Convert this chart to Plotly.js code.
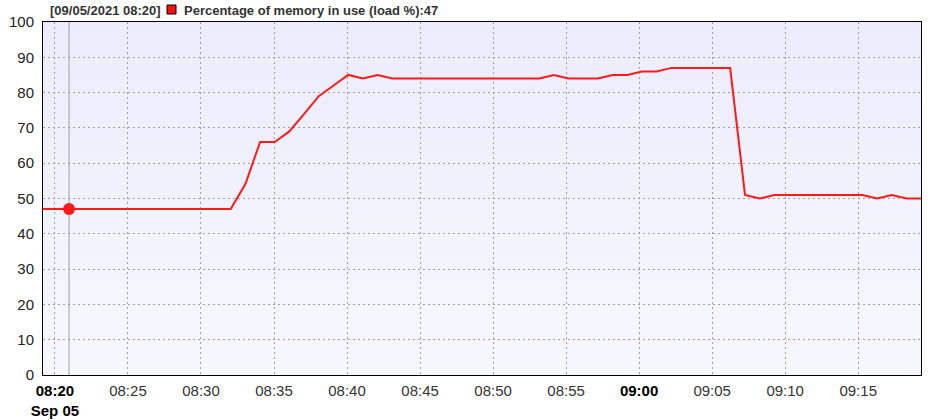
<!DOCTYPE html>
<html>
<head>
<meta charset="utf-8">
<script src="https://cdn.plot.ly/plotly-3.0.1.min.js"></script>
<style>
html,body{margin:0;padding:0;background:#fff;}
#chart{width:940px;height:420px;}
</style>
</head>
<body>
<div id="chart"></div>
<script>
// Sample times (one sample roughly every minute)
var times = [
"2021-09-05 08:18:57","2021-09-05 08:19:58","2021-09-05 08:20:58","2021-09-05 08:21:58","2021-09-05 08:22:59",
"2021-09-05 08:23:59","2021-09-05 08:24:59","2021-09-05 08:26:00","2021-09-05 08:27:00","2021-09-05 08:28:01",
"2021-09-05 08:29:01","2021-09-05 08:30:01","2021-09-05 08:31:02","2021-09-05 08:32:02","2021-09-05 08:33:02",
"2021-09-05 08:34:03","2021-09-05 08:35:03","2021-09-05 08:36:03","2021-09-05 08:37:04","2021-09-05 08:38:04",
"2021-09-05 08:39:05","2021-09-05 08:40:05","2021-09-05 08:41:05","2021-09-05 08:42:06","2021-09-05 08:43:06",
"2021-09-05 08:44:06","2021-09-05 08:45:07","2021-09-05 08:46:07","2021-09-05 08:47:07","2021-09-05 08:48:08",
"2021-09-05 08:49:08","2021-09-05 08:50:08","2021-09-05 08:51:09","2021-09-05 08:52:09","2021-09-05 08:53:10",
"2021-09-05 08:54:10","2021-09-05 08:55:10","2021-09-05 08:56:11","2021-09-05 08:57:11","2021-09-05 08:58:11",
"2021-09-05 08:59:12","2021-09-05 09:00:12","2021-09-05 09:01:12","2021-09-05 09:02:13","2021-09-05 09:03:13",
"2021-09-05 09:04:13","2021-09-05 09:05:14","2021-09-05 09:06:14","2021-09-05 09:07:15","2021-09-05 09:08:15",
"2021-09-05 09:09:15","2021-09-05 09:10:16","2021-09-05 09:11:16","2021-09-05 09:12:16","2021-09-05 09:13:17",
"2021-09-05 09:14:17","2021-09-05 09:15:17","2021-09-05 09:16:18","2021-09-05 09:17:18","2021-09-05 09:18:19",
"2021-09-05 09:19:19","2021-09-05 09:20:19"
];
// Percentage of memory in use (load %)
var memLoad = [
47,47,47,47,47,
47,47,47,47,47,
47,47,47,47,54,
66,66,69,74,79,
82,85,84,85,84,
84,84,84,84,84,
84,84,84,84,84,
85,84,84,84,85,
85,86,86,87,87,
87,87,87,51,50,
51,51,51,51,51,
51,51,50,51,50,
50,50
];
// Highlighted (hover) sample
var hoverTime = ["2021-09-05 08:20:58"];
var hoverValue = [47];
var headerDate = "[09/05/2021 08:20]";
var seriesName = "Percentage of memory in use (load %):47";

var xRange = ["2021-09-05 08:19:11", "2021-09-05 09:19:18"];
var tickVals = ["2021-09-05 08:20","2021-09-05 08:25","2021-09-05 08:30","2021-09-05 08:35","2021-09-05 08:40",
  "2021-09-05 08:45","2021-09-05 08:50","2021-09-05 08:55","2021-09-05 09:00","2021-09-05 09:05",
  "2021-09-05 09:10","2021-09-05 09:15"];
var tickText = ["<b><span style='color:#000'>08:20</span></b><br><b><span style='color:#000'>Sep 05</span></b>",
  "08:25","08:30","08:35","08:40","08:45","08:50","08:55",
  "<b><span style='color:#000'>09:00</span></b>","09:05","09:10","09:15"];
var yTicks = [0,10,20,30,40,50,60,70,80,90,100];

var W = 940, H = 420;
var L = 43, R = 19, T = 22, B = 45;
var pw = W - L - R, ph = H - T - B;
function px(x){ return (x - L) / pw; }
function py(y){ return (H - B - y) / ph; }

var bgSvg = "<svg xmlns='http://www.w3.org/2000/svg' width='100' height='100' preserveAspectRatio='none'>" +
  "<defs><linearGradient id='g' x1='0' y1='0' x2='0' y2='1'>" +
  "<stop offset='0' stop-color='#ECECFC'/><stop offset='1' stop-color='#F6F8FE'/></linearGradient></defs>" +
  "<rect width='100' height='100' fill='url(#g)'/></svg>";
var bgUri = "data:image/svg+xml;charset=utf-8," + encodeURIComponent(bgSvg);

var traces = [
  {
    x: times, y: memLoad, type: "scatter", mode: "lines",
    line: {color: "#FF1A1A", width: 2},
    hoverinfo: "skip", showlegend: false, cliponaxis: true
  },
  {
    x: hoverTime, y: hoverValue, type: "scatter", mode: "markers",
    marker: {color: "#FF1A1A", size: 12},
    hoverinfo: "skip", showlegend: false
  }
];

var layout = {
  width: W, height: H,
  margin: {l: L, r: R, t: T, b: B, pad: 0},
  paper_bgcolor: "#ffffff",
  plot_bgcolor: "#F1F2FD",
  font: {family: "Liberation Sans, Arial, sans-serif", size: 15, color: "#333"},
  images: [{
    source: bgUri, xref: "paper", yref: "paper", x: 0, y: 1, sizex: 1, sizey: 1,
    sizing: "stretch", layer: "below", xanchor: "left", yanchor: "top"
  }],
  xaxis: {
    type: "date", range: xRange, tickmode: "array", tickvals: tickVals, ticktext: tickText,
    showgrid: true, gridcolor: "#A0A0A0", griddash: "2px,3px", gridwidth: 1,
    showline: true, linecolor: "#000", linewidth: 1, mirror: true,
    ticks: "", zeroline: false, tickfont: {size: 15, color: "#333"},
    ticklabelstandoff: 2, fixedrange: true
  },
  yaxis: {
    range: [0, 100], tickmode: "array", tickvals: yTicks,
    showgrid: true, gridcolor: "#A0A0A0", griddash: "2px,3px", gridwidth: 1,
    showline: true, linecolor: "#000", linewidth: 1, mirror: true,
    ticks: "", zeroline: false, tickfont: {size: 15, color: "#222"},
    ticklabelstandoff: 5, fixedrange: true
  },
  shapes: [
    {type: "line", xref: "x", yref: "paper", x0: hoverTime[0], x1: hoverTime[0], y0: 0, y1: 1,
     line: {color: "#A0A0A0", width: 1}, layer: "between"},
    {type: "rect", xref: "paper", yref: "paper", x0: px(167), x1: px(176), y0: py(14), y1: py(5),
     fillcolor: "#FF1010", line: {color: "#000", width: 1}}
  ],
  annotations: [
    {text: "<b>" + headerDate + "</b>", xref: "paper", yref: "paper", x: px(48), y: py(10),
     xanchor: "left", yanchor: "middle", showarrow: false,
     font: {size: 13, color: "#333", family: "Liberation Sans, Arial, sans-serif"}},
    {text: "<b>" + seriesName + "</b>", xref: "paper", yref: "paper", x: px(182), y: py(10),
     xanchor: "left", yanchor: "middle", showarrow: false,
     font: {size: 13, color: "#333", family: "Liberation Sans, Arial, sans-serif"}}
  ]
};

Plotly.newPlot("chart", traces, layout, {displayModeBar: false, staticPlot: true});
</script>
</body>
</html>
